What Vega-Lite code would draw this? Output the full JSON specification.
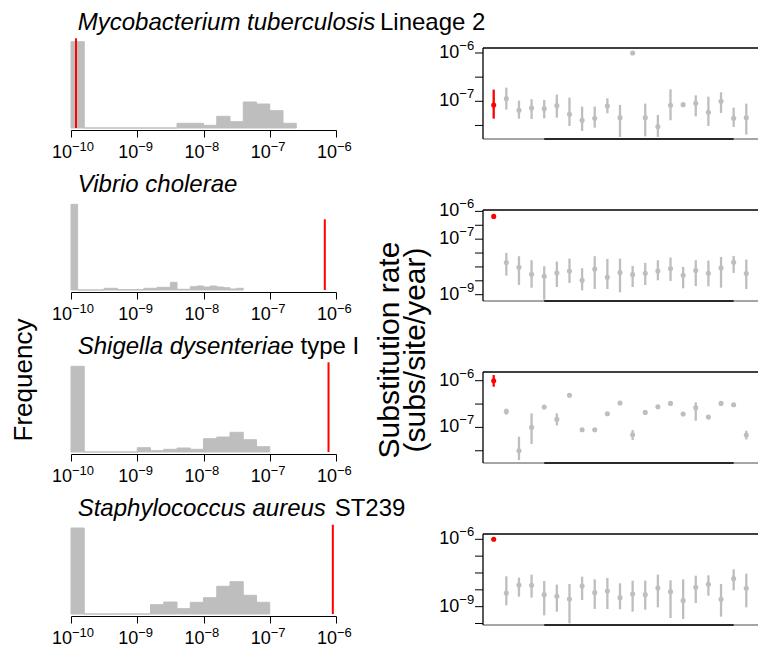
{
  "$schema": "https://vega.github.io/schema/vega-lite/v6.json",
  "padding": {"left": 11, "top": 11, "right": 0, "bottom": 0},
  "autosize": {"type": "pad"},
  "config": {
    "view": {"stroke": null},
    "font": "Liberation Sans",
    "axis": {"labelFont": "Liberation Sans", "labelColor": "black", "grid": false}
  },
  "datasets": {
    "freq_ticks": [
      {"value": -10, "base": "10", "exponent": "−10"},
      {"value": -9, "base": "10", "exponent": "−9"},
      {"value": -8, "base": "10", "exponent": "−8"},
      {"value": -7, "base": "10", "exponent": "−7"},
      {"value": -6, "base": "10", "exponent": "−6"}
    ],
    "rate_ticks": [
      {"row": 1, "tick": -6, "base": "10", "exponent": "−6"},
      {"row": 1, "tick": -6.5, "base": "", "exponent": ""},
      {"row": 1, "tick": -7, "base": "10", "exponent": "−7"},
      {"row": 1, "tick": -7.5, "base": "", "exponent": ""},
      {"row": 2, "tick": -6, "base": "10", "exponent": "−6"},
      {"row": 2, "tick": -6.5, "base": "", "exponent": ""},
      {"row": 2, "tick": -7, "base": "10", "exponent": "−7"},
      {"row": 2, "tick": -7.5, "base": "", "exponent": ""},
      {"row": 2, "tick": -8, "base": "", "exponent": ""},
      {"row": 2, "tick": -8.5, "base": "", "exponent": ""},
      {"row": 2, "tick": -9, "base": "10", "exponent": "−9"},
      {"row": 3, "tick": -6, "base": "10", "exponent": "−6"},
      {"row": 3, "tick": -6.5, "base": "", "exponent": ""},
      {"row": 3, "tick": -7, "base": "10", "exponent": "−7"},
      {"row": 3, "tick": -7.5, "base": "", "exponent": ""},
      {"row": 4, "tick": -6, "base": "10", "exponent": "−6"},
      {"row": 4, "tick": -6.75, "base": "", "exponent": ""},
      {"row": 4, "tick": -7.5, "base": "", "exponent": ""},
      {"row": 4, "tick": -8.25, "base": "", "exponent": ""},
      {"row": 4, "tick": -9, "base": "10", "exponent": "−9"},
      {"row": 4, "tick": -9.75, "base": "", "exponent": ""}
    ],
    "hist": [
      {"row": 1, "bin_start": -10.0, "bin_end": -9.8, "frequency": 863},
      {"row": 1, "bin_start": -9.8, "bin_end": -9.6, "frequency": 0},
      {"row": 1, "bin_start": -9.6, "bin_end": -9.4, "frequency": 0},
      {"row": 1, "bin_start": -9.4, "bin_end": -9.2, "frequency": 0},
      {"row": 1, "bin_start": -9.2, "bin_end": -9.0, "frequency": 0},
      {"row": 1, "bin_start": -9.0, "bin_end": -8.8, "frequency": 0},
      {"row": 1, "bin_start": -8.8, "bin_end": -8.6, "frequency": 0},
      {"row": 1, "bin_start": -8.6, "bin_end": -8.4, "frequency": 0},
      {"row": 1, "bin_start": -8.4, "bin_end": -8.2, "frequency": 47},
      {"row": 1, "bin_start": -8.2, "bin_end": -8.0, "frequency": 47},
      {"row": 1, "bin_start": -8.0, "bin_end": -7.8, "frequency": 27},
      {"row": 1, "bin_start": -7.8, "bin_end": -7.6, "frequency": 117},
      {"row": 1, "bin_start": -7.6, "bin_end": -7.4, "frequency": 63},
      {"row": 1, "bin_start": -7.4, "bin_end": -7.2, "frequency": 260},
      {"row": 1, "bin_start": -7.2, "bin_end": -7.0, "frequency": 240},
      {"row": 1, "bin_start": -7.0, "bin_end": -6.8, "frequency": 173},
      {"row": 1, "bin_start": -6.8, "bin_end": -6.6, "frequency": 47},

      {"row": 2, "bin_start": -10.0, "bin_end": -9.9, "frequency": 857},
      {"row": 2, "bin_start": -9.9, "bin_end": -9.8, "frequency": 0},
      {"row": 2, "bin_start": -9.8, "bin_end": -9.7, "frequency": 0},
      {"row": 2, "bin_start": -9.7, "bin_end": -9.6, "frequency": 0},
      {"row": 2, "bin_start": -9.6, "bin_end": -9.5, "frequency": 0},
      {"row": 2, "bin_start": -9.5, "bin_end": -9.4, "frequency": 17},
      {"row": 2, "bin_start": -9.4, "bin_end": -9.3, "frequency": 17},
      {"row": 2, "bin_start": -9.3, "bin_end": -9.2, "frequency": 3},
      {"row": 2, "bin_start": -9.2, "bin_end": -9.1, "frequency": 3},
      {"row": 2, "bin_start": -9.1, "bin_end": -9.0, "frequency": 3},
      {"row": 2, "bin_start": -9.0, "bin_end": -8.9, "frequency": 3},
      {"row": 2, "bin_start": -8.9, "bin_end": -8.8, "frequency": 17},
      {"row": 2, "bin_start": -8.8, "bin_end": -8.7, "frequency": 17},
      {"row": 2, "bin_start": -8.7, "bin_end": -8.6, "frequency": 27},
      {"row": 2, "bin_start": -8.6, "bin_end": -8.5, "frequency": 27},
      {"row": 2, "bin_start": -8.5, "bin_end": -8.4, "frequency": 77},
      {"row": 2, "bin_start": -8.4, "bin_end": -8.3, "frequency": 7},
      {"row": 2, "bin_start": -8.3, "bin_end": -8.2, "frequency": 7},
      {"row": 2, "bin_start": -8.2, "bin_end": -8.1, "frequency": 33},
      {"row": 2, "bin_start": -8.1, "bin_end": -8.0, "frequency": 40},
      {"row": 2, "bin_start": -8.0, "bin_end": -7.9, "frequency": 30},
      {"row": 2, "bin_start": -7.9, "bin_end": -7.8, "frequency": 40},
      {"row": 2, "bin_start": -7.8, "bin_end": -7.7, "frequency": 30},
      {"row": 2, "bin_start": -7.7, "bin_end": -7.6, "frequency": 23},
      {"row": 2, "bin_start": -7.6, "bin_end": -7.5, "frequency": 10},
      {"row": 2, "bin_start": -7.5, "bin_end": -7.4, "frequency": 17},

      {"row": 3, "bin_start": -10.0, "bin_end": -9.8, "frequency": 857},
      {"row": 3, "bin_start": -9.8, "bin_end": -9.6, "frequency": 0},
      {"row": 3, "bin_start": -9.6, "bin_end": -9.4, "frequency": 0},
      {"row": 3, "bin_start": -9.4, "bin_end": -9.2, "frequency": 0},
      {"row": 3, "bin_start": -9.2, "bin_end": -9.0, "frequency": 0},
      {"row": 3, "bin_start": -9.0, "bin_end": -8.8, "frequency": 43},
      {"row": 3, "bin_start": -8.8, "bin_end": -8.6, "frequency": 13},
      {"row": 3, "bin_start": -8.6, "bin_end": -8.4, "frequency": 27},
      {"row": 3, "bin_start": -8.4, "bin_end": -8.2, "frequency": 40},
      {"row": 3, "bin_start": -8.2, "bin_end": -8.0, "frequency": 27},
      {"row": 3, "bin_start": -8.0, "bin_end": -7.8, "frequency": 133},
      {"row": 3, "bin_start": -7.8, "bin_end": -7.6, "frequency": 150},
      {"row": 3, "bin_start": -7.6, "bin_end": -7.4, "frequency": 197},
      {"row": 3, "bin_start": -7.4, "bin_end": -7.2, "frequency": 123},
      {"row": 3, "bin_start": -7.2, "bin_end": -7.0, "frequency": 53},

      {"row": 4, "bin_start": -10.0, "bin_end": -9.8, "frequency": 860},
      {"row": 4, "bin_start": -9.8, "bin_end": -9.6, "frequency": 0},
      {"row": 4, "bin_start": -9.6, "bin_end": -9.4, "frequency": 0},
      {"row": 4, "bin_start": -9.4, "bin_end": -9.2, "frequency": 0},
      {"row": 4, "bin_start": -9.2, "bin_end": -9.0, "frequency": 0},
      {"row": 4, "bin_start": -9.0, "bin_end": -8.8, "frequency": 0},
      {"row": 4, "bin_start": -8.8, "bin_end": -8.6, "frequency": 93},
      {"row": 4, "bin_start": -8.6, "bin_end": -8.4, "frequency": 120},
      {"row": 4, "bin_start": -8.4, "bin_end": -8.2, "frequency": 53},
      {"row": 4, "bin_start": -8.2, "bin_end": -8.0, "frequency": 117},
      {"row": 4, "bin_start": -8.0, "bin_end": -7.8, "frequency": 163},
      {"row": 4, "bin_start": -7.8, "bin_end": -7.6, "frequency": 277},
      {"row": 4, "bin_start": -7.6, "bin_end": -7.4, "frequency": 323},
      {"row": 4, "bin_start": -7.4, "bin_end": -7.2, "frequency": 187},
      {"row": 4, "bin_start": -7.2, "bin_end": -7.0, "frequency": 117}
    ],
    "observed": [
      {"row": 1, "log10_rate": -9.925},
      {"row": 2, "log10_rate": -6.169},
      {"row": 3, "log10_rate": -6.113},
      {"row": 4, "log10_rate": -6.048}
    ],
    "rates": [
      {"row": 1, "index": 1, "log10_rate": -7.076, "lower": -7.359, "upper": -6.758, "group": "focal"},
      {"row": 1, "index": 2, "log10_rate": -6.945, "lower": -7.172, "upper": -6.717, "group": "other"},
      {"row": 1, "index": 3, "log10_rate": -7.186, "lower": -7.359, "upper": -6.986, "group": "other"},
      {"row": 1, "index": 4, "log10_rate": -7.138, "lower": -7.366, "upper": -6.958, "group": "other"},
      {"row": 1, "index": 5, "log10_rate": -7.152, "lower": -7.352, "upper": -6.972, "group": "other"},
      {"row": 1, "index": 6, "log10_rate": -7.090, "lower": -7.338, "upper": -6.862, "group": "other"},
      {"row": 1, "index": 7, "log10_rate": -7.269, "lower": -7.511, "upper": -6.924, "group": "other"},
      {"row": 1, "index": 8, "log10_rate": -7.393, "lower": -7.614, "upper": -7.110, "group": "other"},
      {"row": 1, "index": 9, "log10_rate": -7.352, "lower": -7.545, "upper": -7.110, "group": "other"},
      {"row": 1, "index": 10, "log10_rate": -7.097, "lower": -7.248, "upper": -6.938, "group": "other"},
      {"row": 1, "index": 11, "log10_rate": -7.338, "lower": -7.738, "upper": -7.076, "group": "other"},
      {"row": 1, "index": 12, "log10_rate": -6.000, "lower": null, "upper": null, "group": "other"},
      {"row": 1, "index": 13, "log10_rate": -7.338, "lower": -7.725, "upper": -7.048, "group": "other"},
      {"row": 1, "index": 14, "log10_rate": -7.525, "lower": -7.738, "upper": -7.283, "group": "other"},
      {"row": 1, "index": 15, "log10_rate": -7.083, "lower": -7.393, "upper": -6.752, "group": "other"},
      {"row": 1, "index": 16, "log10_rate": -7.069, "lower": null, "upper": null, "group": "other"},
      {"row": 1, "index": 17, "log10_rate": -7.041, "lower": -7.311, "upper": -6.876, "group": "other"},
      {"row": 1, "index": 18, "log10_rate": -7.228, "lower": -7.511, "upper": -6.904, "group": "other"},
      {"row": 1, "index": 19, "log10_rate": -7.000, "lower": -7.241, "upper": -6.814, "group": "other"},
      {"row": 1, "index": 20, "log10_rate": -7.352, "lower": -7.531, "upper": -7.131, "group": "other"},
      {"row": 1, "index": 21, "log10_rate": -7.338, "lower": -7.690, "upper": -7.048, "group": "other"},

      {"row": 2, "index": 1, "log10_rate": -6.180, "lower": null, "upper": null, "group": "focal"},
      {"row": 2, "index": 2, "log10_rate": -7.843, "lower": -8.313, "upper": -7.494, "group": "other"},
      {"row": 2, "index": 3, "log10_rate": -8.012, "lower": -8.651, "upper": -7.614, "group": "other"},
      {"row": 2, "index": 4, "log10_rate": -8.265, "lower": -8.747, "upper": -7.759, "group": "other"},
      {"row": 2, "index": 5, "log10_rate": -8.337, "lower": -9.181, "upper": -7.976, "group": "other"},
      {"row": 2, "index": 6, "log10_rate": -8.217, "lower": -8.723, "upper": -7.807, "group": "other"},
      {"row": 2, "index": 7, "log10_rate": -8.145, "lower": -8.578, "upper": -7.699, "group": "other"},
      {"row": 2, "index": 8, "log10_rate": -8.482, "lower": -8.843, "upper": -8.048, "group": "other"},
      {"row": 2, "index": 9, "log10_rate": -8.072, "lower": -8.795, "upper": -7.614, "group": "other"},
      {"row": 2, "index": 10, "log10_rate": -8.373, "lower": -8.795, "upper": -7.711, "group": "other"},
      {"row": 2, "index": 11, "log10_rate": -8.205, "lower": -8.916, "upper": -7.699, "group": "other"},
      {"row": 2, "index": 12, "log10_rate": -8.277, "lower": -8.723, "upper": -7.964, "group": "other"},
      {"row": 2, "index": 13, "log10_rate": -8.229, "lower": -8.651, "upper": -7.855, "group": "other"},
      {"row": 2, "index": 14, "log10_rate": -8.145, "lower": -8.482, "upper": -7.759, "group": "other"},
      {"row": 2, "index": 15, "log10_rate": -8.060, "lower": -8.506, "upper": -7.663, "group": "other"},
      {"row": 2, "index": 16, "log10_rate": -8.301, "lower": -8.771, "upper": -8.000, "group": "other"},
      {"row": 2, "index": 17, "log10_rate": -8.133, "lower": -8.687, "upper": -7.759, "group": "other"},
      {"row": 2, "index": 18, "log10_rate": -8.229, "lower": -8.699, "upper": -7.771, "group": "other"},
      {"row": 2, "index": 19, "log10_rate": -8.036, "lower": -8.747, "upper": -7.639, "group": "other"},
      {"row": 2, "index": 20, "log10_rate": -7.831, "lower": -8.217, "upper": -7.602, "group": "other"},
      {"row": 2, "index": 21, "log10_rate": -8.241, "lower": -8.795, "upper": -7.735, "group": "other"},

      {"row": 3, "index": 1, "log10_rate": -6.000, "lower": -6.129, "upper": -5.879, "group": "focal"},
      {"row": 3, "index": 2, "log10_rate": -6.657, "lower": -6.729, "upper": -6.600, "group": "other"},
      {"row": 3, "index": 3, "log10_rate": -7.500, "lower": -7.700, "upper": -7.200, "group": "other"},
      {"row": 3, "index": 4, "log10_rate": -7.000, "lower": -7.357, "upper": -6.700, "group": "other"},
      {"row": 3, "index": 5, "log10_rate": -6.564, "lower": null, "upper": null, "group": "other"},
      {"row": 3, "index": 6, "log10_rate": -6.829, "lower": -6.957, "upper": -6.700, "group": "other"},
      {"row": 3, "index": 7, "log10_rate": -6.314, "lower": null, "upper": null, "group": "other"},
      {"row": 3, "index": 8, "log10_rate": -7.050, "lower": null, "upper": null, "group": "other"},
      {"row": 3, "index": 9, "log10_rate": -7.050, "lower": null, "upper": null, "group": "other"},
      {"row": 3, "index": 10, "log10_rate": -6.707, "lower": null, "upper": null, "group": "other"},
      {"row": 3, "index": 11, "log10_rate": -6.479, "lower": null, "upper": null, "group": "other"},
      {"row": 3, "index": 12, "log10_rate": -7.157, "lower": -7.271, "upper": -7.057, "group": "other"},
      {"row": 3, "index": 13, "log10_rate": -6.679, "lower": null, "upper": null, "group": "other"},
      {"row": 3, "index": 14, "log10_rate": -6.557, "lower": null, "upper": null, "group": "other"},
      {"row": 3, "index": 15, "log10_rate": -6.486, "lower": null, "upper": null, "group": "other"},
      {"row": 3, "index": 16, "log10_rate": -6.714, "lower": null, "upper": null, "group": "other"},
      {"row": 3, "index": 17, "log10_rate": -6.579, "lower": -6.857, "upper": -6.464, "group": "other"},
      {"row": 3, "index": 18, "log10_rate": -6.779, "lower": null, "upper": null, "group": "other"},
      {"row": 3, "index": 19, "log10_rate": -6.486, "lower": null, "upper": null, "group": "other"},
      {"row": 3, "index": 20, "log10_rate": -6.514, "lower": null, "upper": null, "group": "other"},
      {"row": 3, "index": 21, "log10_rate": -7.164, "lower": -7.257, "upper": -7.071, "group": "other"},

      {"row": 4, "index": 1, "log10_rate": -6.000, "lower": null, "upper": null, "group": "focal"},
      {"row": 4, "index": 2, "log10_rate": -8.391, "lower": -8.941, "upper": -7.649, "group": "other"},
      {"row": 4, "index": 3, "log10_rate": -8.035, "lower": -8.555, "upper": -7.708, "group": "other"},
      {"row": 4, "index": 4, "log10_rate": -8.050, "lower": -8.599, "upper": -7.574, "group": "other"},
      {"row": 4, "index": 5, "log10_rate": -8.465, "lower": -9.386, "upper": -7.857, "group": "other"},
      {"row": 4, "index": 6, "log10_rate": -8.540, "lower": -9.223, "upper": -8.020, "group": "other"},
      {"row": 4, "index": 7, "log10_rate": -8.659, "lower": -9.743, "upper": -7.990, "group": "other"},
      {"row": 4, "index": 8, "log10_rate": -8.079, "lower": -8.703, "upper": -7.663, "group": "other"},
      {"row": 4, "index": 9, "log10_rate": -8.376, "lower": -9.104, "upper": -7.782, "group": "other"},
      {"row": 4, "index": 10, "log10_rate": -8.302, "lower": -9.104, "upper": -7.723, "group": "other"},
      {"row": 4, "index": 11, "log10_rate": -8.599, "lower": -9.119, "upper": -7.960, "group": "other"},
      {"row": 4, "index": 12, "log10_rate": -8.436, "lower": -9.223, "upper": -7.842, "group": "other"},
      {"row": 4, "index": 13, "log10_rate": -8.465, "lower": -9.134, "upper": -7.842, "group": "other"},
      {"row": 4, "index": 14, "log10_rate": -8.168, "lower": -9.030, "upper": -7.574, "group": "other"},
      {"row": 4, "index": 15, "log10_rate": -8.332, "lower": -9.505, "upper": -7.827, "group": "other"},
      {"row": 4, "index": 16, "log10_rate": -8.733, "lower": -9.550, "upper": -7.782, "group": "other"},
      {"row": 4, "index": 17, "log10_rate": -8.139, "lower": -8.837, "upper": -7.619, "group": "other"},
      {"row": 4, "index": 18, "log10_rate": -8.005, "lower": -8.510, "upper": -7.604, "group": "other"},
      {"row": 4, "index": 19, "log10_rate": -8.673, "lower": -9.446, "upper": -7.990, "group": "other"},
      {"row": 4, "index": 20, "log10_rate": -7.753, "lower": -8.272, "upper": -7.337, "group": "other"},
      {"row": 4, "index": 21, "log10_rate": -8.183, "lower": -9.030, "upper": -7.530, "group": "other"}
    ]
  },
  "concat": [
    {
      "width": 265, "height": 91,
      "layer": [
        {
          "data": {"name": "hist"},
          "transform": [{"filter": "datum.row == 1"}],
          "mark": {"type": "rect", "fill": "#bebebe", "stroke": "#bebebe", "strokeWidth": 1},
          "encoding": {
            "x": {"field": "bin_start", "type": "quantitative", "scale": {"domain": [-10, -6], "nice": false, "zero": false},
              "axis": {"values": [-10, -9, -8, -7, -6], "labels": false, "offset": -9, "tickSize": 7, "tickColor": "black", "domainColor": "black", "title": null}},
            "x2": {"field": "bin_end"},
            "y": {"field": "frequency", "type": "quantitative", "scale": {"domain": [-110, 800], "nice": false, "zero": false}, "axis": null},
            "y2": {"datum": 0}
          }
        },
        {
          "data": {"name": "observed"},
          "transform": [{"filter": "datum.row == 1"}],
          "mark": {"type": "rule", "color": "#ff0000", "strokeWidth": 2},
          "encoding": {"x": {"field": "log10_rate", "type": "quantitative"}, "y": {"datum": 0}, "y2": {"datum": 897}}
        },
        {
          "data": {"name": "freq_ticks"},
          "mark": {"type": "text", "fontSize": 18, "align": "right", "baseline": "alphabetic", "dx": 1, "color": "black"},
          "encoding": {"x": {"field": "value", "type": "quantitative"}, "y": {"datum": -295}, "text": {"field": "base", "type": "nominal"}}
        },
        {
          "data": {"name": "freq_ticks"},
          "mark": {"type": "text", "fontSize": 13, "align": "left", "baseline": "alphabetic", "dx": 1, "color": "black"},
          "encoding": {"x": {"field": "value", "type": "quantitative"}, "y": {"datum": -228}, "text": {"field": "exponent", "type": "nominal"}}
        },
        {
          "data": {"values": [{}]},
          "mark": {"type": "text", "text": "Mycobacterium tuberculosis", "fontStyle": "italic", "fontSize": 24, "align": "left", "baseline": "alphabetic", "color": "black"},
          "encoding": {"x": {"datum": -9.899}, "y": {"datum": 977}}
        },
        {
          "data": {"values": [{}]},
          "mark": {"type": "text", "text": "Lineage 2", "fontSize": 24, "align": "left", "baseline": "alphabetic", "color": "black"},
          "encoding": {"x": {"datum": -5.336}, "y": {"datum": 977}}
        }
      ]
    },
    {
      "width": 275, "height": 91,
      "layer": [
        {
          "data": {"name": "rates"},
          "transform": [{"filter": "datum.row == 1"}],
          "mark": {"type": "rule", "strokeWidth": 2.3},
          "encoding": {
            "x": {"field": "index", "type": "quantitative", "scale": {"domain": [0.153, 21.927], "nice": false, "zero": false}, "axis": null},
            "y": {"field": "lower", "type": "quantitative", "scale": {"domain": [-7.7805, -5.8965], "nice": false, "zero": false}, "axis": null},
            "y2": {"field": "upper"},
            "color": {"field": "group", "type": "nominal", "scale": {"domain": ["focal", "other"], "range": ["#ff0000", "#bebebe"]}, "legend": null}
          }
        },
        {
          "data": {"name": "rates"},
          "transform": [{"filter": "datum.row == 1"}],
          "mark": {"type": "point", "filled": true, "shape": "circle", "size": 26, "opacity": 1},
          "encoding": {
            "x": {"field": "index", "type": "quantitative", "axis": null},
            "y": {"field": "log10_rate", "type": "quantitative", "axis": null},
            "color": {"field": "group", "type": "nominal", "legend": null}
          }
        },
        {
          "data": {"values": [{}]},
          "mark": {"type": "rule", "color": "#4d4d4d", "strokeWidth": 1},
          "encoding": {"x": {"datum": 0.153, "axis": null}, "x2": {"datum": 21.927}, "y": {"datum": -7.7805, "axis": null}}
        },
        {
          "data": {"values": [{}]},
          "mark": {"type": "rule", "color": "black", "strokeWidth": 1.5},
          "encoding": {"x": {"datum": 5, "axis": null}, "x2": {"datum": 20}, "y": {"datum": -7.7805, "axis": null}}
        },
        {
          "data": {"values": [{}]},
          "mark": {"type": "rule", "color": "black", "strokeWidth": 1.3},
          "encoding": {"x": {"datum": 0.153, "axis": null}, "x2": {"datum": 21.927}, "y": {"datum": -5.8965, "axis": null}}
        },
        {
          "data": {"values": [{}]},
          "mark": {"type": "rule", "color": "black", "strokeWidth": 1.3},
          "encoding": {"x": {"datum": 0.153, "axis": null}, "y": {"datum": -7.7805, "axis": null}, "y2": {"datum": -5.8965}}
        },
        {
          "data": {"name": "rate_ticks"},
          "transform": [{"filter": "datum.row == 1"}],
          "mark": {"type": "rule", "color": "black", "strokeWidth": 1},
          "encoding": {"x": {"datum": -0.48, "axis": null}, "x2": {"datum": 0.153}, "y": {"field": "tick", "type": "quantitative", "axis": null}}
        },
        {
          "data": {"name": "rate_ticks"},
          "transform": [{"filter": "datum.row == 1"}],
          "mark": {"type": "text", "fontSize": 18, "align": "right", "baseline": "middle", "color": "black"},
          "encoding": {"x": {"datum": -1.723, "axis": null}, "y": {"field": "tick", "type": "quantitative", "axis": null}, "text": {"field": "base", "type": "nominal"}}
        },
        {
          "data": {"name": "rate_ticks"},
          "transform": [{"filter": "datum.row == 1"}],
          "mark": {"type": "text", "fontSize": 13, "align": "left", "baseline": "middle", "dy": -7, "color": "black"},
          "encoding": {"x": {"datum": -1.723, "axis": null}, "y": {"field": "tick", "type": "quantitative", "axis": null}, "text": {"field": "exponent", "type": "nominal"}}
        }
      ]
    },
    {
      "width": 265, "height": 91,
      "layer": [
        {
          "data": {"name": "hist"},
          "transform": [{"filter": "datum.row == 2"}],
          "mark": {"type": "rect", "fill": "#bebebe", "stroke": "#bebebe", "strokeWidth": 1},
          "encoding": {
            "x": {"field": "bin_start", "type": "quantitative", "scale": {"domain": [-10, -6], "nice": false, "zero": false},
              "axis": {"values": [-10, -9, -8, -7, -6], "labels": false, "offset": -9, "tickSize": 7, "tickColor": "black", "domainColor": "black", "title": null}},
            "x2": {"field": "bin_end"},
            "y": {"field": "frequency", "type": "quantitative", "scale": {"domain": [-110, 800], "nice": false, "zero": false}, "axis": null},
            "y2": {"datum": 0}
          }
        },
        {
          "data": {"name": "observed"},
          "transform": [{"filter": "datum.row == 2"}],
          "mark": {"type": "rule", "color": "#ff0000", "strokeWidth": 2},
          "encoding": {"x": {"field": "log10_rate", "type": "quantitative"}, "y": {"datum": 0}, "y2": {"datum": 707}}
        },
        {
          "data": {"name": "freq_ticks"},
          "mark": {"type": "text", "fontSize": 18, "align": "right", "baseline": "alphabetic", "dx": 1, "color": "black"},
          "encoding": {"x": {"field": "value", "type": "quantitative"}, "y": {"datum": -295}, "text": {"field": "base", "type": "nominal"}}
        },
        {
          "data": {"name": "freq_ticks"},
          "mark": {"type": "text", "fontSize": 13, "align": "left", "baseline": "alphabetic", "dx": 1, "color": "black"},
          "encoding": {"x": {"field": "value", "type": "quantitative"}, "y": {"datum": -228}, "text": {"field": "exponent", "type": "nominal"}}
        },
        {
          "data": {"values": [{}]},
          "mark": {"type": "text", "text": "Vibrio cholerae", "fontStyle": "italic", "fontSize": 24, "align": "left", "baseline": "alphabetic", "color": "black"},
          "encoding": {"x": {"datum": -9.899}, "y": {"datum": 977}}
        }
      ]
    },
    {
      "width": 275, "height": 91,
      "layer": [
        {
          "data": {"name": "rates"},
          "transform": [{"filter": "datum.row == 2"}],
          "mark": {"type": "rule", "strokeWidth": 2.3},
          "encoding": {
            "x": {"field": "index", "type": "quantitative", "scale": {"domain": [0.153, 21.927], "nice": false, "zero": false}, "axis": null},
            "y": {"field": "lower", "type": "quantitative", "scale": {"domain": [-9.227, -5.95], "nice": false, "zero": false}, "axis": null},
            "y2": {"field": "upper"},
            "color": {"field": "group", "type": "nominal", "scale": {"domain": ["focal", "other"], "range": ["#ff0000", "#bebebe"]}, "legend": null}
          }
        },
        {
          "data": {"name": "rates"},
          "transform": [{"filter": "datum.row == 2"}],
          "mark": {"type": "point", "filled": true, "shape": "circle", "size": 26, "opacity": 1},
          "encoding": {
            "x": {"field": "index", "type": "quantitative", "axis": null},
            "y": {"field": "log10_rate", "type": "quantitative", "axis": null},
            "color": {"field": "group", "type": "nominal", "legend": null}
          }
        },
        {
          "data": {"values": [{}]},
          "mark": {"type": "rule", "color": "#4d4d4d", "strokeWidth": 1},
          "encoding": {"x": {"datum": 0.153, "axis": null}, "x2": {"datum": 21.927}, "y": {"datum": -9.227, "axis": null}}
        },
        {
          "data": {"values": [{}]},
          "mark": {"type": "rule", "color": "black", "strokeWidth": 1.5},
          "encoding": {"x": {"datum": 5, "axis": null}, "x2": {"datum": 20}, "y": {"datum": -9.227, "axis": null}}
        },
        {
          "data": {"values": [{}]},
          "mark": {"type": "rule", "color": "black", "strokeWidth": 1.3},
          "encoding": {"x": {"datum": 0.153, "axis": null}, "x2": {"datum": 21.927}, "y": {"datum": -5.95, "axis": null}}
        },
        {
          "data": {"values": [{}]},
          "mark": {"type": "rule", "color": "black", "strokeWidth": 1.3},
          "encoding": {"x": {"datum": 0.153, "axis": null}, "y": {"datum": -9.227, "axis": null}, "y2": {"datum": -5.95}}
        },
        {
          "data": {"name": "rate_ticks"},
          "transform": [{"filter": "datum.row == 2"}],
          "mark": {"type": "rule", "color": "black", "strokeWidth": 1},
          "encoding": {"x": {"datum": -0.48, "axis": null}, "x2": {"datum": 0.153}, "y": {"field": "tick", "type": "quantitative", "axis": null}}
        },
        {
          "data": {"name": "rate_ticks"},
          "transform": [{"filter": "datum.row == 2"}],
          "mark": {"type": "text", "fontSize": 18, "align": "right", "baseline": "middle", "color": "black"},
          "encoding": {"x": {"datum": -1.723, "axis": null}, "y": {"field": "tick", "type": "quantitative", "axis": null}, "text": {"field": "base", "type": "nominal"}}
        },
        {
          "data": {"name": "rate_ticks"},
          "transform": [{"filter": "datum.row == 2"}],
          "mark": {"type": "text", "fontSize": 13, "align": "left", "baseline": "middle", "dy": -7, "color": "black"},
          "encoding": {"x": {"datum": -1.723, "axis": null}, "y": {"field": "tick", "type": "quantitative", "axis": null}, "text": {"field": "exponent", "type": "nominal"}}
        }
      ]
    },
    {
      "width": 265, "height": 91,
      "layer": [
        {
          "data": {"name": "hist"},
          "transform": [{"filter": "datum.row == 3"}],
          "mark": {"type": "rect", "fill": "#bebebe", "stroke": "#bebebe", "strokeWidth": 1},
          "encoding": {
            "x": {"field": "bin_start", "type": "quantitative", "scale": {"domain": [-10, -6], "nice": false, "zero": false},
              "axis": {"values": [-10, -9, -8, -7, -6], "labels": false, "offset": -9, "tickSize": 7, "tickColor": "black", "domainColor": "black", "title": null}},
            "x2": {"field": "bin_end"},
            "y": {"field": "frequency", "type": "quantitative", "scale": {"domain": [-110, 800], "nice": false, "zero": false}, "axis": null},
            "y2": {"datum": 0}
          }
        },
        {
          "data": {"name": "observed"},
          "transform": [{"filter": "datum.row == 3"}],
          "mark": {"type": "rule", "color": "#ff0000", "strokeWidth": 2},
          "encoding": {"x": {"field": "log10_rate", "type": "quantitative"}, "y": {"datum": 0}, "y2": {"datum": 897}}
        },
        {
          "data": {"name": "freq_ticks"},
          "mark": {"type": "text", "fontSize": 18, "align": "right", "baseline": "alphabetic", "dx": 1, "color": "black"},
          "encoding": {"x": {"field": "value", "type": "quantitative"}, "y": {"datum": -295}, "text": {"field": "base", "type": "nominal"}}
        },
        {
          "data": {"name": "freq_ticks"},
          "mark": {"type": "text", "fontSize": 13, "align": "left", "baseline": "alphabetic", "dx": 1, "color": "black"},
          "encoding": {"x": {"field": "value", "type": "quantitative"}, "y": {"datum": -228}, "text": {"field": "exponent", "type": "nominal"}}
        },
        {
          "data": {"values": [{}]},
          "mark": {"type": "text", "text": "Shigella dysenteriae", "fontStyle": "italic", "fontSize": 24, "align": "left", "baseline": "alphabetic", "color": "black"},
          "encoding": {"x": {"datum": -9.899}, "y": {"datum": 977}}
        },
        {
          "data": {"values": [{}]},
          "mark": {"type": "text", "text": "type I", "fontSize": 24, "align": "left", "baseline": "alphabetic", "color": "black"},
          "encoding": {"x": {"datum": -6.536}, "y": {"datum": 977}}
        },
        {
          "data": {"values": [{}]},
          "mark": {"type": "text", "text": "Frequency", "angle": 270, "fontSize": 26, "align": "center", "baseline": "middle", "color": "black"},
          "encoding": {"x": {"datum": -10.709}, "y": {"datum": 720}}
        }
      ]
    },
    {
      "width": 275, "height": 91,
      "layer": [
        {
          "data": {"name": "rates"},
          "transform": [{"filter": "datum.row == 3"}],
          "mark": {"type": "rule", "strokeWidth": 2.3},
          "encoding": {
            "x": {"field": "index", "type": "quantitative", "scale": {"domain": [0.153, 21.927], "nice": false, "zero": false}, "axis": null},
            "y": {"field": "lower", "type": "quantitative", "scale": {"domain": [-7.7623, -5.8137], "nice": false, "zero": false}, "axis": null},
            "y2": {"field": "upper"},
            "color": {"field": "group", "type": "nominal", "scale": {"domain": ["focal", "other"], "range": ["#ff0000", "#bebebe"]}, "legend": null}
          }
        },
        {
          "data": {"name": "rates"},
          "transform": [{"filter": "datum.row == 3"}],
          "mark": {"type": "point", "filled": true, "shape": "circle", "size": 26, "opacity": 1},
          "encoding": {
            "x": {"field": "index", "type": "quantitative", "axis": null},
            "y": {"field": "log10_rate", "type": "quantitative", "axis": null},
            "color": {"field": "group", "type": "nominal", "legend": null}
          }
        },
        {
          "data": {"values": [{}]},
          "mark": {"type": "rule", "color": "#4d4d4d", "strokeWidth": 1},
          "encoding": {"x": {"datum": 0.153, "axis": null}, "x2": {"datum": 21.927}, "y": {"datum": -7.7623, "axis": null}}
        },
        {
          "data": {"values": [{}]},
          "mark": {"type": "rule", "color": "black", "strokeWidth": 1.5},
          "encoding": {"x": {"datum": 5, "axis": null}, "x2": {"datum": 20}, "y": {"datum": -7.7623, "axis": null}}
        },
        {
          "data": {"values": [{}]},
          "mark": {"type": "rule", "color": "black", "strokeWidth": 1.3},
          "encoding": {"x": {"datum": 0.153, "axis": null}, "x2": {"datum": 21.927}, "y": {"datum": -5.8137, "axis": null}}
        },
        {
          "data": {"values": [{}]},
          "mark": {"type": "rule", "color": "black", "strokeWidth": 1.3},
          "encoding": {"x": {"datum": 0.153, "axis": null}, "y": {"datum": -7.7623, "axis": null}, "y2": {"datum": -5.8137}}
        },
        {
          "data": {"name": "rate_ticks"},
          "transform": [{"filter": "datum.row == 3"}],
          "mark": {"type": "rule", "color": "black", "strokeWidth": 1},
          "encoding": {"x": {"datum": -0.48, "axis": null}, "x2": {"datum": 0.153}, "y": {"field": "tick", "type": "quantitative", "axis": null}}
        },
        {
          "data": {"name": "rate_ticks"},
          "transform": [{"filter": "datum.row == 3"}],
          "mark": {"type": "text", "fontSize": 18, "align": "right", "baseline": "middle", "color": "black"},
          "encoding": {"x": {"datum": -1.723, "axis": null}, "y": {"field": "tick", "type": "quantitative", "axis": null}, "text": {"field": "base", "type": "nominal"}}
        },
        {
          "data": {"name": "rate_ticks"},
          "transform": [{"filter": "datum.row == 3"}],
          "mark": {"type": "text", "fontSize": 13, "align": "left", "baseline": "middle", "dy": -7, "color": "black"},
          "encoding": {"x": {"datum": -1.723, "axis": null}, "y": {"field": "tick", "type": "quantitative", "axis": null}, "text": {"field": "exponent", "type": "nominal"}}
        },
        {
          "data": {"values": [{}]},
          "mark": {"type": "text", "text": ["Substitution rate", "(subs/site/year)"], "angle": 270, "fontSize": 30, "lineHeight": 26, "align": "center", "baseline": "middle", "color": "black"},
          "encoding": {"x": {"datum": -7.25, "axis": null}, "y": {"datum": -5.343, "axis": null}}
        }
      ]
    },
    {
      "width": 265, "height": 91,
      "layer": [
        {
          "data": {"name": "hist"},
          "transform": [{"filter": "datum.row == 4"}],
          "mark": {"type": "rect", "fill": "#bebebe", "stroke": "#bebebe", "strokeWidth": 1},
          "encoding": {
            "x": {"field": "bin_start", "type": "quantitative", "scale": {"domain": [-10, -6], "nice": false, "zero": false},
              "axis": {"values": [-10, -9, -8, -7, -6], "labels": false, "offset": -9, "tickSize": 7, "tickColor": "black", "domainColor": "black", "title": null}},
            "x2": {"field": "bin_end"},
            "y": {"field": "frequency", "type": "quantitative", "scale": {"domain": [-110, 800], "nice": false, "zero": false}, "axis": null},
            "y2": {"datum": 0}
          }
        },
        {
          "data": {"name": "observed"},
          "transform": [{"filter": "datum.row == 4"}],
          "mark": {"type": "rule", "color": "#ff0000", "strokeWidth": 2},
          "encoding": {"x": {"field": "log10_rate", "type": "quantitative"}, "y": {"datum": 0}, "y2": {"datum": 893}}
        },
        {
          "data": {"name": "freq_ticks"},
          "mark": {"type": "text", "fontSize": 18, "align": "right", "baseline": "alphabetic", "dx": 1, "color": "black"},
          "encoding": {"x": {"field": "value", "type": "quantitative"}, "y": {"datum": -295}, "text": {"field": "base", "type": "nominal"}}
        },
        {
          "data": {"name": "freq_ticks"},
          "mark": {"type": "text", "fontSize": 13, "align": "left", "baseline": "alphabetic", "dx": 1, "color": "black"},
          "encoding": {"x": {"field": "value", "type": "quantitative"}, "y": {"datum": -228}, "text": {"field": "exponent", "type": "nominal"}}
        },
        {
          "data": {"values": [{}]},
          "mark": {"type": "text", "text": "Staphylococcus aureus", "fontStyle": "italic", "fontSize": 24, "align": "left", "baseline": "alphabetic", "color": "black"},
          "encoding": {"x": {"datum": -9.899}, "y": {"datum": 977}}
        },
        {
          "data": {"values": [{}]},
          "mark": {"type": "text", "text": "ST239", "fontSize": 24, "align": "left", "baseline": "alphabetic", "color": "black"},
          "encoding": {"x": {"datum": -6.02}, "y": {"datum": 977}}
        }
      ]
    },
    {
      "width": 275, "height": 91,
      "layer": [
        {
          "data": {"name": "rates"},
          "transform": [{"filter": "datum.row == 4"}],
          "mark": {"type": "rule", "strokeWidth": 2.3},
          "encoding": {
            "x": {"field": "index", "type": "quantitative", "scale": {"domain": [0.153, 21.927], "nice": false, "zero": false}, "axis": null},
            "y": {"field": "lower", "type": "quantitative", "scale": {"domain": [-9.817, -5.764], "nice": false, "zero": false}, "axis": null},
            "y2": {"field": "upper"},
            "color": {"field": "group", "type": "nominal", "scale": {"domain": ["focal", "other"], "range": ["#ff0000", "#bebebe"]}, "legend": null}
          }
        },
        {
          "data": {"name": "rates"},
          "transform": [{"filter": "datum.row == 4"}],
          "mark": {"type": "point", "filled": true, "shape": "circle", "size": 26, "opacity": 1},
          "encoding": {
            "x": {"field": "index", "type": "quantitative", "axis": null},
            "y": {"field": "log10_rate", "type": "quantitative", "axis": null},
            "color": {"field": "group", "type": "nominal", "legend": null}
          }
        },
        {
          "data": {"values": [{}]},
          "mark": {"type": "rule", "color": "#4d4d4d", "strokeWidth": 1},
          "encoding": {"x": {"datum": 0.153, "axis": null}, "x2": {"datum": 21.927}, "y": {"datum": -9.817, "axis": null}}
        },
        {
          "data": {"values": [{}]},
          "mark": {"type": "rule", "color": "black", "strokeWidth": 1.5},
          "encoding": {"x": {"datum": 5, "axis": null}, "x2": {"datum": 20}, "y": {"datum": -9.817, "axis": null}}
        },
        {
          "data": {"values": [{}]},
          "mark": {"type": "rule", "color": "black", "strokeWidth": 1.3},
          "encoding": {"x": {"datum": 0.153, "axis": null}, "x2": {"datum": 21.927}, "y": {"datum": -5.764, "axis": null}}
        },
        {
          "data": {"values": [{}]},
          "mark": {"type": "rule", "color": "black", "strokeWidth": 1.3},
          "encoding": {"x": {"datum": 0.153, "axis": null}, "y": {"datum": -9.817, "axis": null}, "y2": {"datum": -5.764}}
        },
        {
          "data": {"name": "rate_ticks"},
          "transform": [{"filter": "datum.row == 4"}],
          "mark": {"type": "rule", "color": "black", "strokeWidth": 1},
          "encoding": {"x": {"datum": -0.48, "axis": null}, "x2": {"datum": 0.153}, "y": {"field": "tick", "type": "quantitative", "axis": null}}
        },
        {
          "data": {"name": "rate_ticks"},
          "transform": [{"filter": "datum.row == 4"}],
          "mark": {"type": "text", "fontSize": 18, "align": "right", "baseline": "middle", "color": "black"},
          "encoding": {"x": {"datum": -1.723, "axis": null}, "y": {"field": "tick", "type": "quantitative", "axis": null}, "text": {"field": "base", "type": "nominal"}}
        },
        {
          "data": {"name": "rate_ticks"},
          "transform": [{"filter": "datum.row == 4"}],
          "mark": {"type": "text", "fontSize": 13, "align": "left", "baseline": "middle", "dy": -7, "color": "black"},
          "encoding": {"x": {"datum": -1.723, "axis": null}, "y": {"field": "tick", "type": "quantitative", "axis": null}, "text": {"field": "exponent", "type": "nominal"}}
        }
      ]
    }
  ],
  "columns": 2,
  "spacing": {"row": 71, "column": 147},
  "bounds": "flush",
  "align": "each"
}
